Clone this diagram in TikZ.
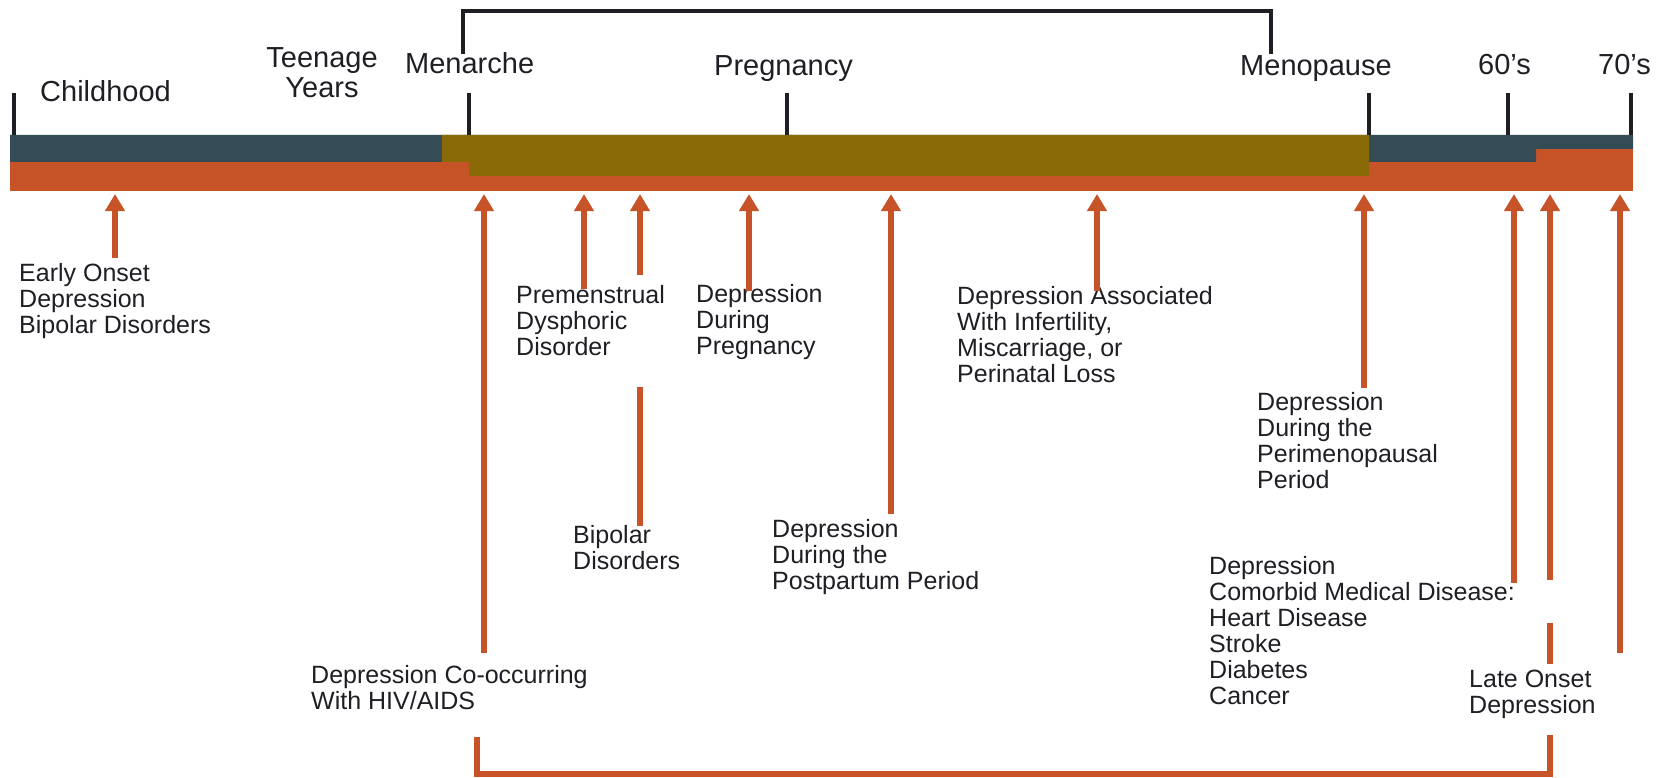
\documentclass[tikz,border=0pt]{standalone}
\usepackage{fontspec}
\setmainfont{Liberation Sans}
\usetikzlibrary{arrows.meta}
\definecolor{darkbar}{HTML}{344C55}
\definecolor{olivebar}{HTML}{8A6A07}
\definecolor{orangebar}{HTML}{C75428}
\definecolor{ink}{HTML}{1E1E24}
\begin{document}
\begin{tikzpicture}[x=1pt,y=-1pt,
  head/.style={font=\fontsize{29}{30}\selectfont, text=ink, inner sep=0pt, anchor=base west, align=left},
  lab/.style={font=\fontsize{25}{26}\selectfont, text=ink, inner sep=0pt, anchor=base west, align=left},
  tickline/.style={draw=ink, line width=4pt},
  bracketline/.style={draw=ink, line width=4pt},
  pointer/.style={draw=orangebar, line width=6pt, -{Triangle[width=19pt,length=17pt]}},
  seg/.style={draw=orangebar, line width=6pt},
]
\useasboundingbox (0,0) rectangle (1661,778);
% ---- bar ----
\fill[orangebar] (10,135) rectangle (1633,191);
\fill[darkbar] (10,135) -- (1633,135) -- (1633,149) -- (1536,149) -- (1536,162) -- (10,162) -- cycle;
\fill[olivebar] (442,135) -- (1369,135) -- (1369,176) -- (469,176) -- (469,162) -- (442,162) -- cycle;
% ---- ticks ----
\foreach \x/\n in {14/a,469/b,787/c,1369/d,1508/e,1631/f}{
  \coordinate (tk\n top) at (\x,93);
  \coordinate (tk\n bot) at (\x,135);
  \draw[tickline] (tk\n top) -- (tk\n bot);
}
% ---- top bracket ----
\coordinate (brA) at (463,54);
\coordinate (brB) at (463,11);
\coordinate (brC) at (1271,11);
\coordinate (brD) at (1271,54);
\draw[bracketline] (brA) -- (brB) -- (brC) -- (brD);
% ---- headers ----
\node[head] (hchild) at (40,102) {Childhood};
\node[head, anchor=base, align=center] (hteen) at (322,98) {Teenage\\Years};
\node[head] (hmen) at (405,74) {Menarche};
\node[head] (hpreg) at (714,76) {Pregnancy};
\node[head] (hmeno) at (1240,76) {Menopause};
\node[head] (hsixty) at (1478,75) {60’s};
\node[head] (hseventy) at (1598,75) {70’s};
% ---- labels (base = baseline of last line) ----
\node[lab] (lEarly) at (19,333) {Early Onset\\Depression\\Bipolar Disorders};
\node[lab] (lHIV) at (311,709) {Depression Co-occurring\\With HIV/AIDS};
\node[lab] (lPMDD) at (516,355) {Premenstrual\\Dysphoric\\Disorder};
\node[lab] (lBip) at (573,569) {Bipolar\\Disorders};
\node[lab] (lPreg) at (696,354) {Depression\\During\\Pregnancy};
\node[lab] (lPost) at (772,589) {Depression\\During the\\Postpartum Period};
\node[lab] (lInf) at (957,382) {Depression Associated\\With Infertility,\\Miscarriage, or\\Perinatal Loss};
\node[lab] (lPeri) at (1257,488) {Depression\\During the\\Perimenopausal\\Period};
\node[lab] (lCom) at (1209,704) {Depression\\Comorbid Medical Disease:\\Heart Disease\\Stroke\\Diabetes\\Cancer};
\node[lab] (lLate) at (1469,713) {Late Onset\\Depression};
% ---- arrows ----
\foreach \x/\y/\n in {115/258/1, 484/653/2, 584/289/3, 640/275/4, 749/291/5, 891/514/6, 1097/291/7, 1364/388/8, 1514/583/9, 1550/580/10, 1620/653/11}{
  \coordinate (tail\n) at (\x,\y);
  \coordinate (tip\n) at (\x,194);
  \draw[pointer] (tail\n) -- (tip\n);
}
% broken segments
\coordinate (bipA) at (640,387);
\coordinate (bipB) at (640,526);
\draw[seg] (bipA) -- (bipB);
\coordinate (lateA) at (1550,623);
\coordinate (lateB) at (1550,664);
\draw[seg] (lateA) -- (lateB);
% ---- bottom bracket ----
\coordinate (bbA) at (477,737);
\coordinate (bbB) at (477,774);
\coordinate (bbC) at (1550,774);
\coordinate (bbD) at (1550,735);
\draw[seg] (bbA) -- (bbB) -- (bbC) -- (bbD);
\end{tikzpicture}
\end{document}
